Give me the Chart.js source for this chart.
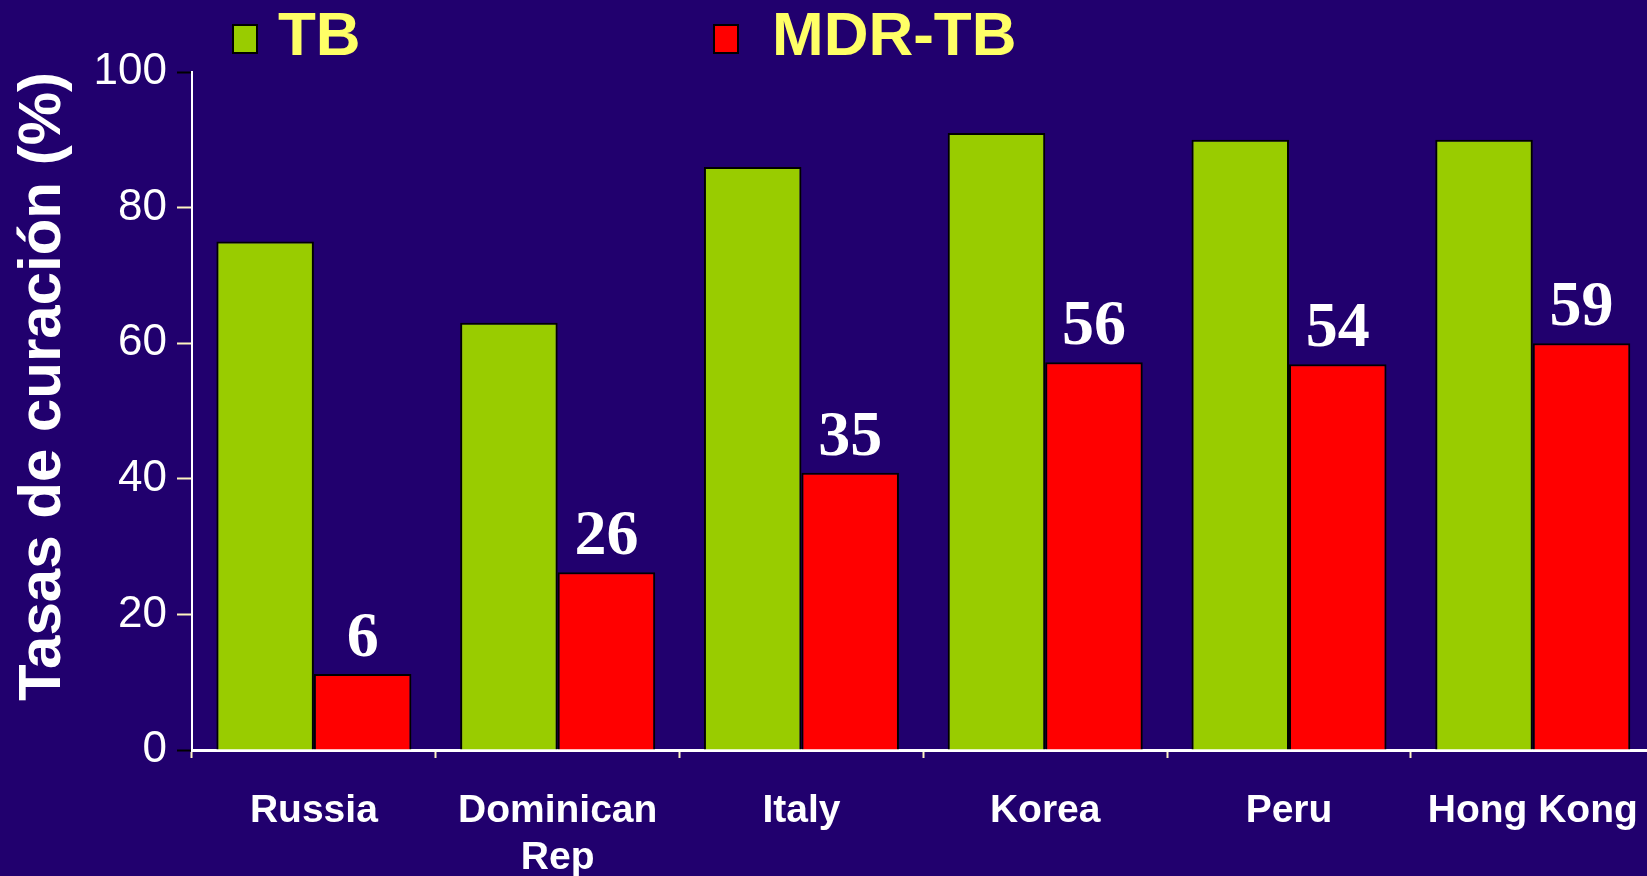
<!DOCTYPE html>
<html>
<head>
<meta charset="utf-8">
<script src="https://cdn.jsdelivr.net/npm/chart.js@4.4.1/dist/chart.umd.min.js"></script>
<style>
  html, body { margin: 0; padding: 0; background: #21006E; overflow: hidden; }
  #wrap { width: 1668px; height: 876px; position: relative; }
</style>
</head>
<body>
<div id="wrap"><canvas id="cureChart"></canvas></div>
<script>
// countries on the x axis
const countries = ["Russia", ["Dominican", "Rep"], "Italy", "Korea", "Peru", "Hong Kong"];
// bar heights
const tbValues = [75, 63, 86, 91, 90, 90];
const mdrValues = [11.2, 26.2, 40.9, 57.2, 56.9, 60];
// the numbers printed over the red bars
const mdrLabels = ["6", "26", "35", "56", "54", "59"];
const yTicks = [0, 20, 40, 60, 80, 100];

// legend at the top, drawn by hand so the items can sit far apart
const topLegend = {
  id: "topLegend",
  afterDraw(chart) {
    const ctx = chart.ctx;
    const boxX = [233, 714];
    const textX = [278, 772];
    ctx.save();
    chart.data.datasets.forEach((ds, i) => {
      ctx.fillStyle = ds.backgroundColor;
      ctx.strokeStyle = "#000";
      ctx.lineWidth = 2;
      ctx.fillRect(boxX[i], 25, 24, 28);
      ctx.strokeRect(boxX[i], 25, 24, 28);
      ctx.fillStyle = "#FFFF66";
      ctx.font = "bold 62px 'Liberation Sans', Arial, sans-serif";
      ctx.textBaseline = "alphabetic";
      ctx.textAlign = "left";
      ctx.fillText(ds.label, textX[i], 55);
    });
    ctx.restore();
  }
};

// white serif numbers above the MDR-TB bars
const barNumbers = {
  id: "barNumbers",
  afterDatasetsDraw(chart) {
    const ctx = chart.ctx;
    const meta = chart.getDatasetMeta(1);
    ctx.save();
    ctx.fillStyle = "#FFFFFF";
    ctx.font = "bold 64px 'Liberation Serif', 'Times New Roman', serif";
    ctx.textAlign = "center";
    ctx.textBaseline = "alphabetic";
    meta.data.forEach((bar, i) => {
      ctx.fillText(mdrLabels[i], bar.x, bar.y - 18);
    });
    ctx.restore();
  }
};

const ctx = document.getElementById("cureChart").getContext("2d");
new Chart(ctx, {
  type: "bar",
  data: {
    labels: countries,
    datasets: [
      {
        label: "TB",
        data: tbValues,
        backgroundColor: "#99CC00",
        borderColor: "#000000",
        borderWidth: 2,
        categoryPercentage: 0.8,
        barPercentage: 1.0
      },
      {
        label: "MDR-TB",
        data: mdrValues,
        backgroundColor: "#FF0000",
        borderColor: "#000000",
        borderWidth: 2,
        categoryPercentage: 0.8,
        barPercentage: 1.0
      }
    ]
  },
  options: {
    responsive: true,
    maintainAspectRatio: false,
    animation: false,
    layout: { padding: { top: 72, right: 2, left: 0, bottom: 0 } },
    plugins: {
      legend: { display: false },
      tooltip: { enabled: false }
    },
    scales: {
      x: {
        afterFit: (scale) => { scale.height = 126; },
        grid: {
          display: true,
          drawOnChartArea: false,
          tickLength: 8,
          tickColor: "#FFF5C0",
          tickWidth: 2
        },
        border: { color: "#FFFFFF", width: 3 },
        ticks: {
          color: "#FFFFFF",
          padding: 30,
          maxRotation: 0,
          autoSkip: false,
          font: { family: "'Liberation Sans', Arial, sans-serif", size: 39, weight: "bold", lineHeight: 1.2 }
        }
      },
      y: {
        min: 0,
        max: 100,
        afterBuildTicks: (scale) => { scale.ticks = yTicks.map(v => ({ value: v })); },
        afterFit: (scale) => { scale.width = 192; },
        grid: {
          display: true,
          drawOnChartArea: false,
          tickLength: 15,
          tickWidth: 2,
          tickColor: (c) => (c.tick && (c.tick.value === 0 || c.tick.value === 100)) ? "#000000" : "#FFF5C0"
        },
        border: { color: "#FFFFFF", width: 2 },
        ticks: {
          color: "#FFFFFF",
          padding: 10,
          font: { family: "'Liberation Sans', Arial, sans-serif", size: 44 }
        },
        title: {
          display: true,
          text: "Tasas de curación (%)",
          color: "#FFFFFF",
          align: "end",
          padding: { top: 7, bottom: 0 },
          font: { family: "'Liberation Sans', Arial, sans-serif", size: 60, weight: "bold", lineHeight: 1.2 }
        }
      }
    }
  },
  plugins: [topLegend, barNumbers]
});
</script>
</body>
</html>
